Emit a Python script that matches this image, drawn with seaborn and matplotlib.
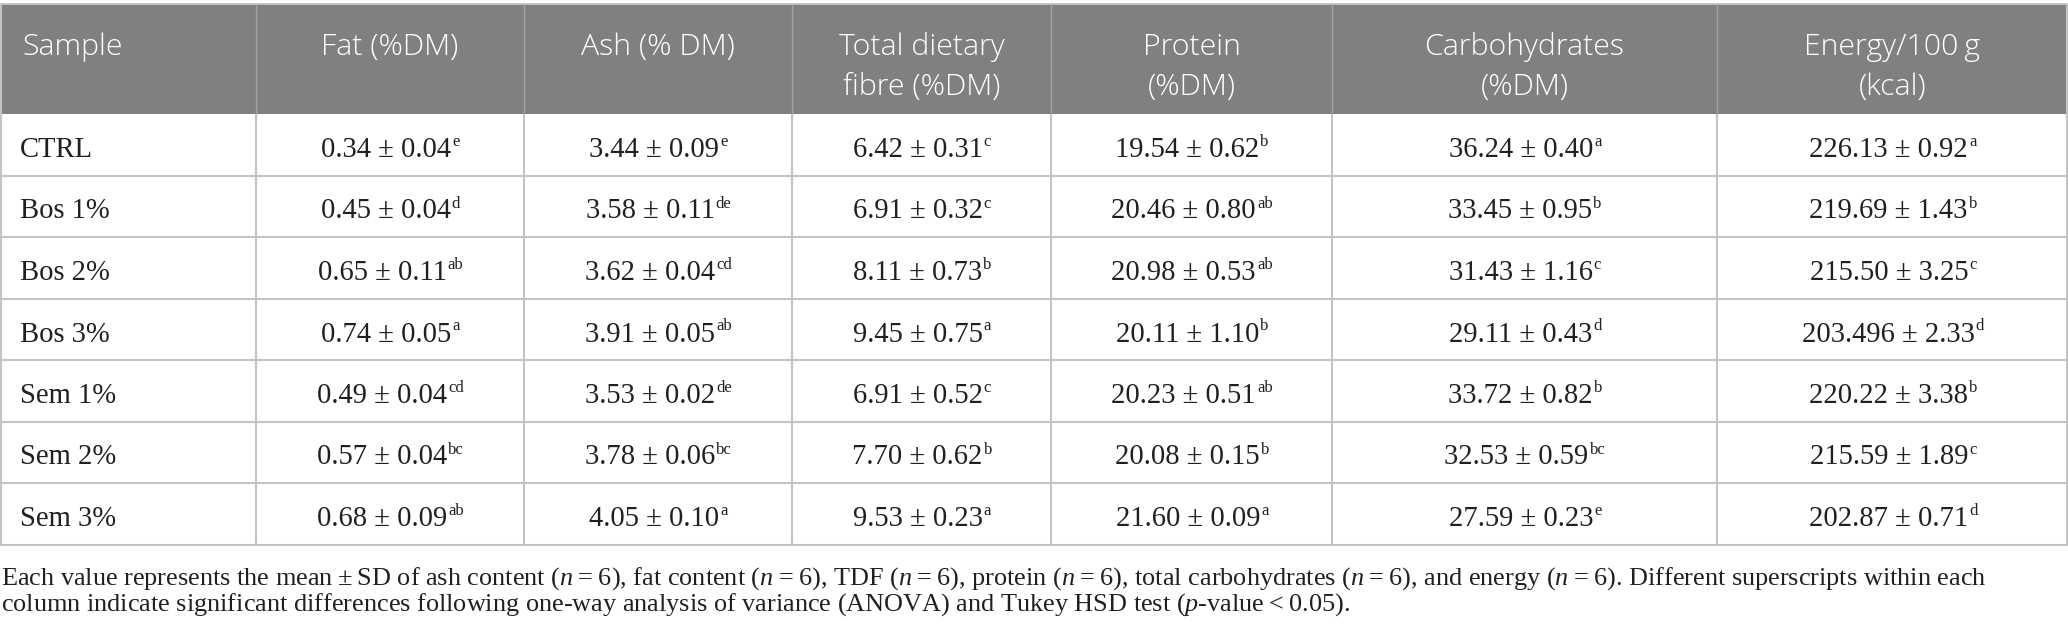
#!/usr/bin/env python3

import matplotlib
matplotlib.use("Agg")
from matplotlib import pyplot as plt
from matplotlib.patches import Rectangle
import seaborn as sns


samples = ["CTRL", "Bos 1%", "Bos 2%", "Bos 3%", "Sem 1%", "Sem 2%", "Sem 3%"]

headers = [
        ["Sample"],
        ["Fat (%DM)"],
        ["Ash (% DM)"],
        ["Total dietary", "fibre (%DM)"],
        ["Protein", "(%DM)"],
        ["Carbohydrates", "(%DM)"],
        ["Energy/100\u2009g", "(kcal)"],
        ]

fat_mean = ["0.34", "0.45", "0.65", "0.74", "0.49", "0.57", "0.68"]
fat_sd = ["0.04", "0.04", "0.11", "0.05", "0.04", "0.04", "0.09"]
fat_grp = ["e", "d", "ab", "a", "cd", "bc", "ab"]

ash_mean = ["3.44", "3.58", "3.62", "3.91", "3.53", "3.78", "4.05"]
ash_sd = ["0.09", "0.11", "0.04", "0.05", "0.02", "0.06", "0.10"]
ash_grp = ["e", "de", "cd", "ab", "de", "bc", "a"]

tdf_mean = ["6.42", "6.91", "8.11", "9.45", "6.91", "7.70", "9.53"]
tdf_sd = ["0.31", "0.32", "0.73", "0.75", "0.52", "0.62", "0.23"]
tdf_grp = ["c", "c", "b", "a", "c", "b", "a"]

prot_mean = ["19.54", "20.46", "20.98", "20.11", "20.23", "20.08", "21.60"]
prot_sd = ["0.62", "0.80", "0.53", "1.10", "0.51", "0.15", "0.09"]
prot_grp = ["b", "ab", "ab", "b", "ab", "b", "a"]

carb_mean = ["36.24", "33.45", "31.43", "29.11", "33.72", "32.53", "27.59"]
carb_sd = ["0.40", "0.95", "1.16", "0.43", "0.82", "0.59", "0.23"]
carb_grp = ["a", "b", "c", "d", "b", "bc", "e"]

energy_mean = ["226.13", "219.69", "215.50", "203.496", "220.22", "215.59",
               "202.87"]
energy_sd = ["0.92", "1.43", "3.25", "2.33", "3.38", "1.89", "0.71"]
energy_grp = ["a", "b", "c", "d", "b", "c", "d"]

footnote = [
        "Each value represents the mean\u2009\u00b1\u2009SD of ash content "
        "($n$\u2009=\u20096), fat content ($n$\u2009=\u20096), TDF "
        "($n$\u2009=\u20096), protein ($n$\u2009=\u20096), total carbohydrates "
        "($n$\u2009=\u20096), and energy ($n$\u2009=\u20096). Different "
        "superscripts within each",
        "column indicate significant differences following one-way analysis "
        "of variance (ANOVA) and Tukey HSD test ($p$-value\u2009<\u20090.05).",
        ]

W, H = 2068, 634
col_edges = [0, 256, 524, 792, 1051, 1332, 1717, 2068]
head_top, head_bottom = 4, 114
row_h = 61.5

head_bg = "#808080"
head_sep = "#a3a3a3"
grid = "#c4c4c4"
ink = "#231f20"

BODY = 20.6
SUP = 12.0
HEAD = 21.8
NOTE = 18.9


def main():
    sns.set_theme(style="white")
    plt.rcParams["font.family"] = ["Liberation Serif", "DejaVu Serif"]
    plt.rcParams["mathtext.fontset"] = "custom"
    plt.rcParams["mathtext.rm"] = "Liberation Serif"
    plt.rcParams["mathtext.it"] = "Liberation Serif:italic"

    fig = plt.figure(figsize=(W / 100, H / 100), dpi=100)
    ax = fig.add_axes([0, 0, 1, 1])
    ax.set_xlim(0, W)
    ax.set_ylim(H, 0)
    ax.axis("off")
    renderer = fig.canvas.get_renderer()

    n = len(samples)
    bottom = head_bottom + n * row_h

    # header band
    ax.add_patch(Rectangle((0, head_top), W, head_bottom - head_top,
                           color=head_bg, lw=0))
    ax.hlines(head_top, 0, W, color=grid, lw=1.4)
    ax.vlines(col_edges[1:-1], head_top, head_bottom, color=head_sep, lw=1.0)

    # body grid
    ys = [head_bottom + i * row_h for i in range(1, n + 1)]
    ax.hlines(ys, 0, W, color=grid, lw=1.5)
    ax.vlines(col_edges[1:-1], head_bottom, bottom, color=grid, lw=1.5)
    ax.vlines([1, W - 1], head_top, bottom, color=grid, lw=1.5)

    # header text
    for c, lines in enumerate(headers):
        for k, line in enumerate(lines):
            if c == 0:
                x, ha = col_edges[0] + 22, "left"
            else:
                x, ha = (col_edges[c] + col_edges[c + 1]) / 2, "center"
            ax.text(x, 55 + 40 * k, line, fontsize=HEAD, ha=ha,
                    va="baseline", color="white", family=["Open Sans"],
                    fontweight="light")

    columns = [
            (fat_mean, fat_sd, fat_grp),
            (ash_mean, ash_sd, ash_grp),
            (tdf_mean, tdf_sd, tdf_grp),
            (prot_mean, prot_sd, prot_grp),
            (carb_mean, carb_sd, carb_grp),
            (energy_mean, energy_sd, energy_grp),
            ]

    for r, name in enumerate(samples):
        yb = head_bottom + r * row_h + 43
        ax.text(col_edges[0] + 20, yb, name, fontsize=BODY, ha="left",
                va="baseline", color=ink)
        for c, (means, sds, grps) in enumerate(columns):
            xc = (col_edges[c + 1] + col_edges[c + 2]) / 2
            t = ax.text(0, yb, f"{means[r]} \u00b1 {sds[r]}", fontsize=BODY,
                        ha="left", va="baseline", color=ink)
            s = ax.text(0, yb - 11, grps[r], fontsize=SUP, ha="left",
                        va="baseline", color=ink)
            w1 = t.get_window_extent(renderer).width
            w2 = s.get_window_extent(renderer).width
            x0 = xc - (w1 + w2) / 2
            t.set_x(x0)
            s.set_x(x0 + w1 + 1)

    for k, line in enumerate(footnote):
        ax.text(1, 585 + 26 * k, line, fontsize=NOTE, ha="left",
                va="baseline", color=ink)

    fig.savefig("out.png", dpi=100)


if __name__ == "__main__":
    main()
